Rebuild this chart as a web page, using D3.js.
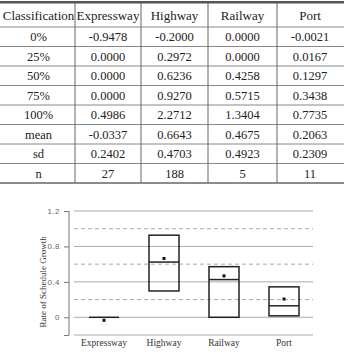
<!DOCTYPE html>
<html>
<head>
<meta charset="utf-8">
<script src="https://cdn.jsdelivr.net/npm/d3@7"></script>
<style>
  body { margin: 0; background: #fff; }
  svg { display: block; }
</style>
</head>
<body>
<div class="chart"></div>
<script>
// table + box chart of schedule growth by facility type
var columns = ["Classification", "Expressway", "Highway", "Railway", "Port"];
var rowLabels = ["0%", "25%", "50%", "75%", "100%", "mean", "sd", "n"];
var expressway = ["-0.9478", "0.0000", "0.0000", "0.0000", "0.4986", "-0.0337", "0.2402", "27"];
var highway    = ["-0.2000", "0.2972", "0.6236", "0.9270", "2.2712", "0.6643", "0.4703", "188"];
var railway    = ["0.0000", "0.0000", "0.4258", "0.5715", "1.3404", "0.4675", "0.4923", "5"];
var port       = ["-0.0021", "0.0167", "0.1297", "0.3438", "0.7735", "0.2063", "0.2309", "11"];

var categories = ["Expressway", "Highway", "Railway", "Port"];
var q25 = [0.0000, 0.2972, 0.0000, 0.0167];
var q50 = [0.0000, 0.6236, 0.4258, 0.1297];
var q75 = [0.0000, 0.9270, 0.5715, 0.3438];
var means = [-0.0337, 0.6643, 0.4675, 0.2063];
var solidTicks = [1.2, 0.8, 0.4, 0, -0.2];
var dashedTicks = [1.0, 0.6, 0.2];
var tickLabels = ["1.2", "0.8", "0.4", "0", ""];

var W = 344, H = 356;
var svg = d3.select(".chart").append("svg")
    .attr("width", W)
    .attr("height", H);

// ---- table ----
var serif = "Liberation Serif, DejaVu Serif, Times New Roman, serif";
var colEdges = [2, 75, 141, 208, 277, 343];
var headTop = 3, headBottom = 27, rowH = 19.5;
var tableBottom = headBottom + rowH * rowLabels.length;
var cols = [rowLabels, expressway, highway, railway, port];

var table = svg.append("g");

// horizontal rules
table.append("rect")
    .attr("x", 0).attr("y", 1)
    .attr("width", W).attr("height", 2.5)
    .attr("fill", "#555");

d3.range(rowLabels.length + 1).forEach(function(i) {
  var y = headBottom + i * rowH;
  table.append("line")
      .attr("x1", 0).attr("x2", W)
      .attr("y1", y).attr("y2", y)
      .attr("stroke", i == rowLabels.length ? "#666" : "#888")
      .attr("stroke-width", i == rowLabels.length ? 1.4 : 1);
});

// vertical rules
colEdges.slice(1, -1).forEach(function(x) {
  table.append("line")
      .attr("x1", x).attr("x2", x)
      .attr("y1", headTop).attr("y2", tableBottom)
      .attr("stroke", "#666");
});

// header
columns.forEach(function(c, j) {
  table.append("text")
      .attr("x", (colEdges[j] + colEdges[j + 1]) / 2)
      .attr("y", (headTop + headBottom) / 2)
      .attr("dy", "0.35em")
      .attr("text-anchor", "middle")
      .attr("font-family", serif)
      .attr("font-size", 13)
      .attr("fill", "#222")
      .text(c);
});

// body cells
cols.forEach(function(vals, j) {
  table.selectAll(null)
      .data(vals)
    .enter().append("text")
      .attr("x", (colEdges[j] + colEdges[j + 1]) / 2)
      .attr("y", function(d, i) { return headBottom + i * rowH + rowH / 2; })
      .attr("dy", "0.35em")
      .attr("text-anchor", "middle")
      .attr("font-family", serif)
      .attr("font-size", 12.5)
      .attr("fill", "#222")
      .text(function(d) { return d; });
});

// ---- box chart ----
var y = d3.scaleLinear().domain([0, 1.2]).range([317.3, 211]);
var x = d3.scaleBand().domain(categories).range([74, 314]).paddingInner(0.5).paddingOuter(0.25);
var axisX = 69;

var chart = svg.append("g");

chart.selectAll(".grid")
    .data(solidTicks)
  .enter().append("line")
    .attr("x1", 74).attr("x2", 313)
    .attr("y1", function(d) { return y(d); })
    .attr("y2", function(d) { return y(d); })
    .attr("stroke", "#aaa")
    .attr("stroke-width", 1);

chart.selectAll(".dash")
    .data(dashedTicks)
  .enter().append("line")
    .attr("x1", 74).attr("x2", 313)
    .attr("y1", function(d) { return y(d); })
    .attr("y2", function(d) { return y(d); })
    .attr("stroke", "#aaa")
    .attr("stroke-dasharray", "4,3");

// y axis
var yAxis = d3.axisLeft(y)
    .tickValues(solidTicks)
    .tickSize(5)
    .tickPadding(4)
    .tickFormat(function(d, i) { return tickLabels[i]; });

var ag = chart.append("g")
    .attr("transform", "translate(" + axisX + ",0)")
    .call(yAxis);
ag.select(".domain").remove();
ag.append("line")
    .attr("y1", y(1.2)).attr("y2", y(-0.2))
    .attr("stroke", "#777");
ag.selectAll(".tick line").attr("stroke", "#777");
ag.selectAll(".tick text")
    .attr("fill", "#666")
    .attr("font-family", "Liberation Sans, Arial, sans-serif")
    .attr("font-size", 8)
    .style("letter-spacing", "0.5px");

chart.append("text")
    .attr("transform", "translate(43," + y(0.4) + ") rotate(-90)")
    .attr("text-anchor", "middle")
    .attr("dy", "0.35em")
    .attr("font-family", serif)
    .attr("font-size", 9)
    .attr("fill", "#333")
    .text("Rate of Schedule Growth");

// x labels
chart.selectAll(".xl")
    .data(categories)
  .enter().append("text")
    .attr("x", function(d) { return x(d) + x.bandwidth() / 2; })
    .attr("y", 343)
    .attr("dy", "0.35em")
    .attr("text-anchor", "middle")
    .attr("font-family", serif)
    .attr("font-size", 9.5)
    .attr("fill", "#333")
    .text(function(d) { return d; });

// boxes
categories.forEach(function(c, i) {
  chart.append("rect")
      .attr("x", x(c))
      .attr("y", y(q75[i]))
      .attr("width", x.bandwidth())
      .attr("height", Math.max(y(q25[i]) - y(q75[i]), 0))
      .attr("fill", "none")
      .attr("stroke", "#222")
      .attr("stroke-width", 1.5);
  chart.append("line")
      .attr("x1", x(c)).attr("x2", x(c) + x.bandwidth())
      .attr("y1", y(q50[i])).attr("y2", y(q50[i]))
      .attr("stroke", "#222")
      .attr("stroke-width", 1.5);
  chart.append("rect")
      .attr("x", x(c) + x.bandwidth() / 2 - 1.5)
      .attr("y", y(means[i]) - 1.5)
      .attr("width", 3).attr("height", 3)
      .attr("fill", "#111");
});
</script>
</body>
</html>
